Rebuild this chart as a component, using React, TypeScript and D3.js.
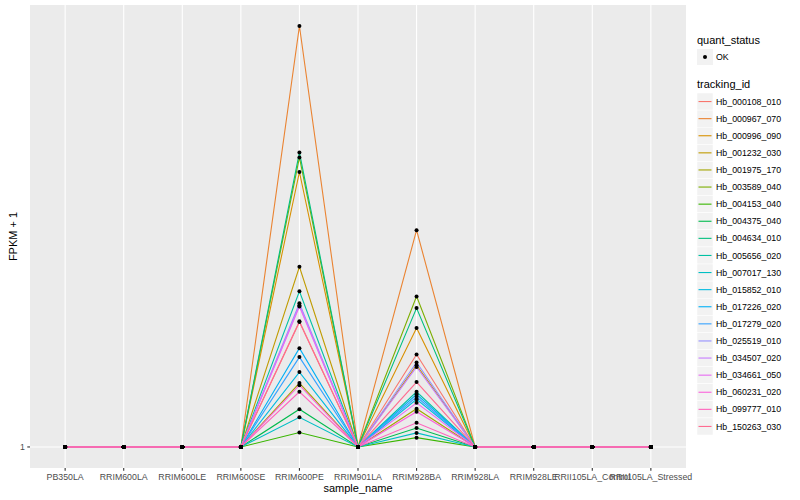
import React from "react";
import * as d3 from "d3";

const samples = [
  "PB350LA", "RRIM600LA", "RRIM600LE", "RRIM600SE", "RRIM600PE", "RRIM901LA",
  "RRIM928BA", "RRIM928LA", "RRIM928LE", "RRII105LA_Control", "RRII105LA_Stressed",
];

const trackingIds = [
  "Hb_000108_010", "Hb_000967_070", "Hb_000996_090", "Hb_001232_030", "Hb_001975_170",
  "Hb_003589_040", "Hb_004153_040", "Hb_004375_040", "Hb_004634_010", "Hb_005656_020",
  "Hb_007017_130", "Hb_015852_010", "Hb_017226_020", "Hb_017279_020", "Hb_025519_010",
  "Hb_034507_020", "Hb_034661_050", "Hb_060231_020", "Hb_099777_010", "Hb_150263_030",
];

// FPKM + 1 at RRIM600PE and RRIM928BA; all other samples are 1
const peValues = [
  1.781, 6.982, 3.559, 2.298, 1.343, 3.807, 1.069, 1.190, 3.896, 2.051,
  1.147, 1.413, 1.578, 1.514, 1.941, 1.923, 1.912, 1.330, 1.290, 1.786,
];
const baValues = [
  1.532, 2.720, 1.732, 1.459, 1.193, 2.004, 1.044, 1.091, 1.899, 1.290,
  1.067, 1.246, 1.275, 1.261, 1.477, 1.447, 1.226, 1.177, 1.118, 1.349,
];

const yTicks = [1];

const palette = [
  "#F8766D", "#EA8331", "#D89000", "#C09B00", "#A3A500", "#7CAE00", "#39B600", "#00BB4E", "#00BF7D", "#00C1A3",
  "#00BFC4", "#00BAE0", "#00B0F6", "#35A2FF", "#9590FF", "#C77CFF", "#E76BF3", "#FA62DB", "#FF62BC", "#FF6C91",
];

const W = 800, H = 500;
const panel = { left: 30, right: 686, top: 5, bottom: 468 };

export default function App() {
  const series = trackingIds.map((id, i) => ({
    id,
    values: samples.map((s) => (s === "RRIM600PE" ? peValues[i] : s === "RRIM928BA" ? baValues[i] : 1)),
  }));

  const maxV = d3.max(peValues) as number;
  const lmin = 0, lmax = Math.log10(maxV);
  const pad = (lmax - lmin) * 0.05;
  const y = d3.scaleLog().domain([Math.pow(10, lmin - pad), Math.pow(10, lmax + pad)]).range([panel.bottom, panel.top]);
  const x = d3.scalePoint<string>().domain(samples).range([panel.left, panel.right]).padding(0.6);

  const color = d3.scaleOrdinal<string, string>().domain(trackingIds).range(palette);

  const line = d3.line<number>().x((_, i) => x(samples[i]) as number).y((v) => y(v));

  const font = "Liberation Sans, Arial, Helvetica, sans-serif";
  const legendX = 697;
  const keyTop = 93;
  const keyH = 17.1;

  return (
    <svg width={W} height={H} style={{ position: "absolute", left: 0, top: 0 }} fontFamily={font}>
      <rect x={0} y={0} width={W} height={H} fill="#ffffff" />
      <rect x={panel.left} y={panel.top} width={panel.right - panel.left} height={panel.bottom - panel.top} fill="#EBEBEB" />
      {yTicks.map((t) => (
        <line key={"gy" + t} x1={panel.left} x2={panel.right} y1={y(t)} y2={y(t)} stroke="#ffffff" strokeWidth={1.1} />
      ))}
      {samples.map((s) => (
        <line key={"gx" + s} x1={x(s)} x2={x(s)} y1={panel.top} y2={panel.bottom} stroke="#ffffff" strokeWidth={1.1} />
      ))}
      {series.map((sr) => (
        <path key={sr.id} d={line(sr.values) || ""} fill="none" stroke={color(sr.id)} strokeWidth={1.1} />
      ))}
      {series.map((sr) =>
        sr.values.map((v, i) => (
          <circle key={sr.id + i} cx={x(samples[i])} cy={y(v)} r={2} fill="#000000" />
        ))
      )}
      {/* y axis */}
      {yTicks.map((t) => (
        <g key={"ty" + t}>
          <line x1={panel.left - 2.7} x2={panel.left} y1={y(t)} y2={y(t)} stroke="#333333" strokeWidth={1.1} />
          <text x={panel.left - 5} y={y(t)} dy="0.35em" textAnchor="end" fontSize={8.8} fill="#4D4D4D">{t}</text>
        </g>
      ))}
      {/* x axis */}
      {samples.map((s) => (
        <g key={"tx" + s}>
          <line x1={x(s)} x2={x(s)} y1={panel.bottom} y2={panel.bottom + 2.7} stroke="#333333" strokeWidth={1.1} />
          <text x={x(s)} y={480} textAnchor="middle" fontSize={8.8} fill="#4D4D4D">{s}</text>
        </g>
      ))}
      <text x={(panel.left + panel.right) / 2} y={492} textAnchor="middle" fontSize={11} fill="#000000">sample_name</text>
      <text transform={`translate(17,${(panel.top + panel.bottom) / 2}) rotate(-90)`} textAnchor="middle" fontSize={11} fill="#000000">FPKM + 1</text>

      {/* legend: quant_status */}
      <text x={legendX} y={44} fontSize={11} fill="#000000">quant_status</text>
      <rect x={legendX} y={49} width={16} height={16} fill="#F2F2F2" />
      <circle cx={legendX + 8} cy={57} r={2} fill="#000000" />
      <text x={legendX + 19} y={57} dy="0.35em" fontSize={8.8} fill="#000000">OK</text>

      {/* legend: tracking_id */}
      <text x={legendX} y={88} fontSize={11} fill="#000000">tracking_id</text>
      {trackingIds.map((id, i) => {
        const cy = keyTop + keyH * i + keyH / 2;
        return (
          <g key={"lg" + id}>
            <rect x={legendX} y={keyTop + keyH * i} width={16} height={keyH} fill="#F2F2F2" stroke="#ffffff" strokeWidth={0.5} />
            <line x1={legendX + 1.5} x2={legendX + 14.5} y1={cy} y2={cy} stroke={color(id)} strokeWidth={1.1} />
            <text x={legendX + 19} y={cy} dy="0.35em" fontSize={8.8} fill="#000000">{id}</text>
          </g>
        );
      })}
    </svg>
  );
}
